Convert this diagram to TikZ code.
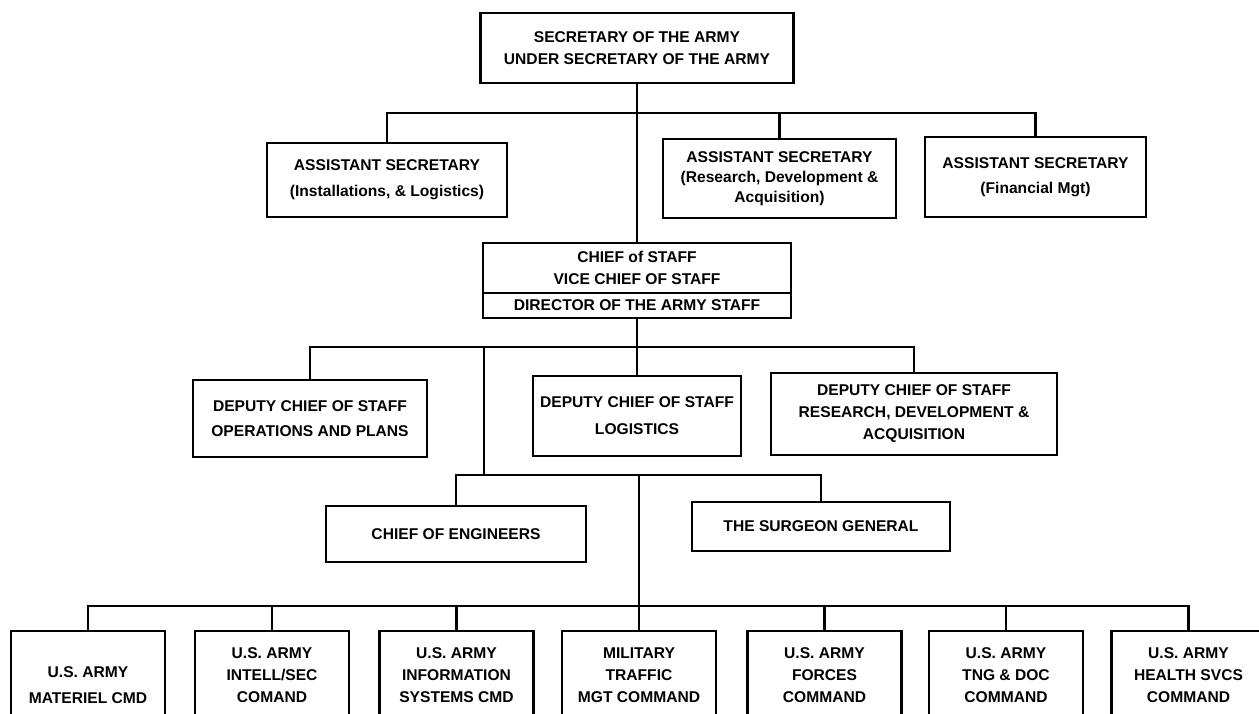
\documentclass[tikz,border=0pt]{standalone}
\usepackage{fontspec}
\setmainfont{Liberation Sans}
\begin{document}
\begin{tikzpicture}[x=0.5pt,y=-0.5pt,
  box/.style={draw,line width=1.3pt,align=center,inner sep=0pt,outer sep=0pt,
    font=\bfseries\fontsize{7.8}{11}\selectfont},
  conn/.style={line width=1.3pt}]
\useasboundingbox (0,0) rectangle (1259,713);
\clip (0,0) rectangle (1259,713);
% level 1
\node[box,minimum width=156.5pt,minimum height=35pt] (sec) at (637,48)
  {SECRETARY OF THE ARMY\\UNDER SECRETARY OF THE ARMY};
% assistant secretaries
\node[box,minimum width=120pt,minimum height=37pt,font=\bfseries\fontsize{7.8}{13}\selectfont] (asi) at (387,180)
  {ASSISTANT SECRETARY\\(Installations, \& Logistics)};
\node[box,minimum width=116.5pt,minimum height=39.5pt,font=\bfseries\fontsize{7.8}{10}\selectfont] (asr) at (779.5,178.5)
  {ASSISTANT SECRETARY\\(Research, Development \&\\Acquisition)};
\node[box,minimum width=110.5pt,minimum height=40pt,font=\bfseries\fontsize{7.8}{12.5}\selectfont] (asf) at (1035.5,177)
  {ASSISTANT SECRETARY\\(Financial Mgt)};
% chief of staff
\node[box,minimum width=154pt,minimum height=25pt] (cos) at (637,268)
  {CHIEF of STAFF\\VICE CHIEF OF STAFF};
\node[box,anchor=north,minimum width=154pt,minimum height=12.5pt] (dir) at (cos.south)
  {DIRECTOR OF THE ARMY STAFF};
% deputy chiefs
\node[box,minimum width=117pt,minimum height=38.5pt,font=\bfseries\fontsize{7.8}{12.5}\selectfont] (dops) at (310,418.5)
  {DEPUTY CHIEF OF STAFF\\OPERATIONS AND PLANS};
\node[box,minimum width=104pt,minimum height=40pt,font=\bfseries\fontsize{7.8}{13.5}\selectfont] (dlog) at (637,416)
  {DEPUTY CHIEF OF STAFF\\LOGISTICS};
\node[box,minimum width=143pt,minimum height=41pt] (drda) at (914,414)
  {DEPUTY CHIEF OF STAFF\\RESEARCH, DEVELOPMENT \&\\ACQUISITION};
% special staff
\node[box,minimum width=130pt,minimum height=28pt] (coe) at (456,534)
  {CHIEF OF ENGINEERS};
\node[box,minimum width=129pt,minimum height=24.5pt] (sg) at (821,526.5)
  {THE SURGEON GENERAL};
% major commands
\tikzset{cmd/.style={box,minimum width=77pt,minimum height=44pt}}
\node[cmd] (b1) at (88,675) {\rule{0pt}{16pt}U.S. ARMY\\[2pt]MATERIEL CMD};
\node[cmd] (b2) at (272,675) {U.S. ARMY\\INTELL/SEC\\COMAND};
\node[cmd] (b3) at (456.5,675) {U.S. ARMY\\INFORMATION\\SYSTEMS CMD};
\node[cmd] (b4) at (639,675) {MILITARY\\TRAFFIC\\MGT COMMAND};
\node[cmd] (b5) at (824.5,675) {U.S. ARMY\\FORCES\\COMMAND};
\node[cmd] (b6) at (1006,675) {U.S. ARMY\\TNG \& DOC\\COMMAND};
\node[cmd] (b7) at (1188.5,675) {U.S. ARMY\\HEALTH SVCS\\COMMAND};
% junctions
\coordinate (j1) at (637,113);
\coordinate (j2) at (637,347);
\coordinate (j3a) at (484,347);
\coordinate (j3) at (484,475);
\coordinate (j4a) at (639,475);
\coordinate (j4) at (639,606);
% connectors
\draw[conn] (sec.south) -- (cos.north);
\draw[conn] (asi.north) |- (j1) -| (asf.north);
\draw[conn] (asr.north |- j1) -- (asr.north);
\draw[conn] (dir.south) -- (dlog.north);
\draw[conn] (dops.north) |- (j2) -| (drda.north);
\draw[conn] (j3a) -- (j3);
\draw[conn] (coe.north) |- (j3) -| (sg.north);
\draw[conn] (j4a) -- (b4.north);
\draw[conn] (b1.north) |- (j4) -| (b7.north);
\draw[conn] (b2.north |- j4) -- (b2.north);
\draw[conn] (b3.north |- j4) -- (b3.north);
\draw[conn] (b5.north |- j4) -- (b5.north);
\draw[conn] (b6.north |- j4) -- (b6.north);
\end{tikzpicture}
\end{document}
